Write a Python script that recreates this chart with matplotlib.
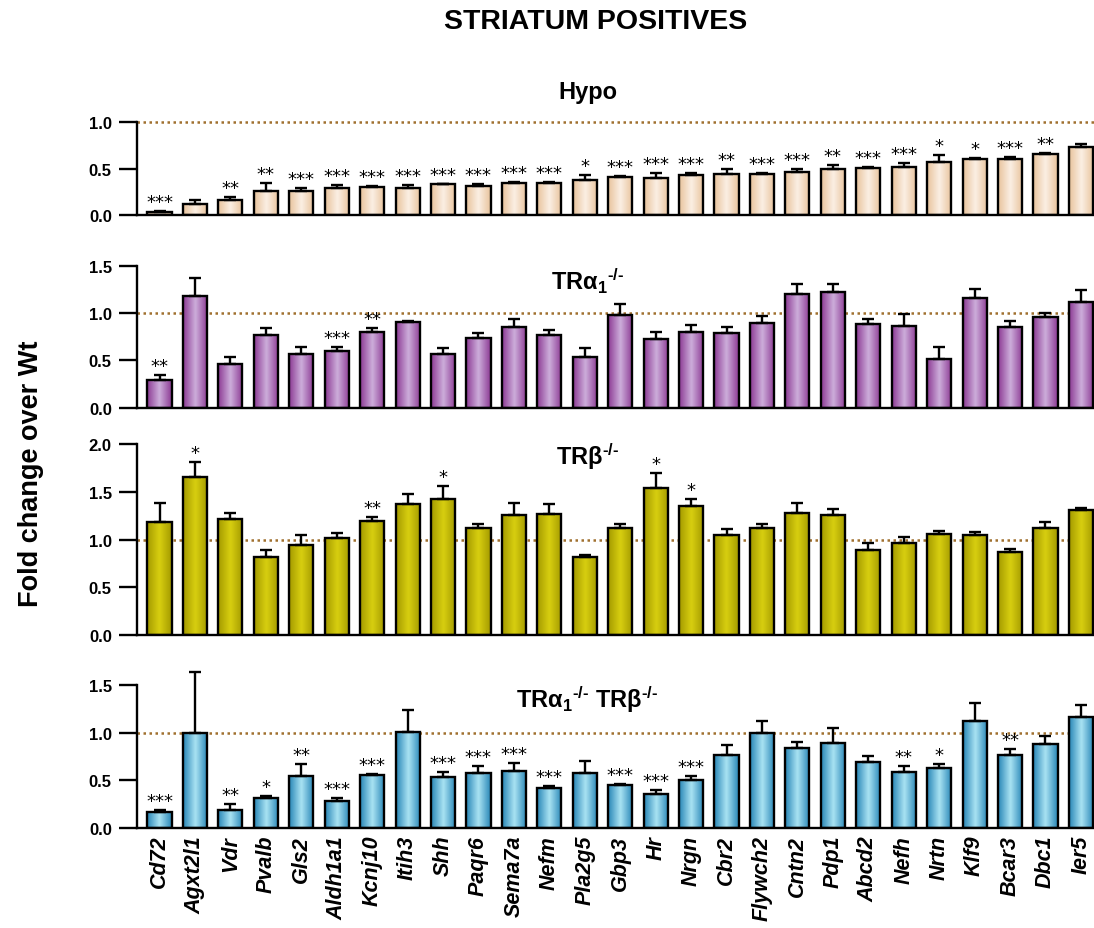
import numpy as np
import matplotlib
matplotlib.use("Agg")
import matplotlib.pyplot as plt
from matplotlib.colors import LinearSegmentedColormap

plt.rcParams['font.family'] = ['Liberation Sans', 'DejaVu Sans']
plt.rcParams['mathtext.fontset'] = 'custom'
plt.rcParams['mathtext.rm'] = 'Liberation Sans:bold'
plt.rcParams['mathtext.bf'] = 'Liberation Sans:bold'
plt.rcParams['mathtext.it'] = 'Liberation Sans:bold:italic'

genes = ["Cd72", "Agxt2l1", "Vdr", "Pvalb", "Gls2", "Aldh1a1", "Kcnj10", "Itih3",
         "Shh", "Paqr6", "Sema7a", "Nefm", "Pla2g5", "Gbp3", "Hr", "Nrgn", "Cbr2",
         "Flywch2", "Cntn2", "Pdp1", "Abcd2", "Nefh", "Nrtn", "Klf9", "Bcar3",
         "Dbc1", "Ier5"]

# --- Hypo ---
hypo_mean = [0.04, 0.12, 0.17, 0.26, 0.26, 0.29, 0.30, 0.29, 0.33, 0.31, 0.345,
             0.35, 0.38, 0.41, 0.40, 0.43, 0.44, 0.44, 0.46, 0.49, 0.51, 0.52,
             0.57, 0.60, 0.60, 0.66, 0.73]
hypo_sem = [0.01, 0.04, 0.025, 0.09, 0.03, 0.03, 0.01, 0.03, 0.01, 0.03, 0.015,
            0.01, 0.05, 0.01, 0.05, 0.02, 0.05, 0.01, 0.04, 0.05, 0.005, 0.04,
            0.07, 0.01, 0.02, 0.01, 0.03]
hypo_sig = ["***", "", "**", "**", "***", "***", "***", "***", "***", "***", "***",
            "***", "*", "***", "***", "***", "**", "***", "***", "**", "***", "***",
            "*", "*", "***", "**", ""]

# --- TRa1 -/- ---
tra_mean = [0.29, 1.18, 0.46, 0.77, 0.57, 0.60, 0.80, 0.90, 0.57, 0.74, 0.85,
            0.765, 0.54, 0.98, 0.73, 0.80, 0.785, 0.89, 1.205, 1.22, 0.88, 0.86,
            0.51, 1.155, 0.855, 0.96, 1.12]
tra_sem = [0.055, 0.19, 0.075, 0.07, 0.07, 0.04, 0.04, 0.02, 0.065, 0.05, 0.085,
           0.06, 0.09, 0.12, 0.07, 0.07, 0.07, 0.075, 0.105, 0.09, 0.055, 0.125,
           0.13, 0.095, 0.06, 0.04, 0.12]
tra_sig = ["**", "", "", "", "", "***", "**"] + [""] * 20

# --- TRb -/- ---
trb_mean = [1.185, 1.66, 1.215, 0.82, 0.945, 1.02, 1.20, 1.375, 1.425, 1.12,
            1.255, 1.27, 0.82, 1.12, 1.54, 1.35, 1.045, 1.12, 1.275, 1.26, 0.89,
            0.965, 1.055, 1.05, 0.87, 1.125, 1.31]
trb_sem = [0.205, 0.16, 0.065, 0.07, 0.105, 0.055, 0.035, 0.10, 0.14, 0.04, 0.135,
           0.105, 0.02, 0.04, 0.16, 0.08, 0.07, 0.04, 0.11, 0.06, 0.07, 0.06,
           0.04, 0.03, 0.035, 0.065, 0.02]
trb_sig = ["", "*", "", "", "", "", "**", "", "*", "", "", "", "", "", "*", "*",
           "", "", "", "", "", "", "", "", "", "", ""]

# --- TRa1 -/- TRb -/- ---
trab_mean = [0.17, 1.0, 0.19, 0.315, 0.545, 0.285, 0.555, 1.005, 0.535, 0.58,
             0.595, 0.42, 0.575, 0.445, 0.355, 0.50, 0.77, 0.995, 0.84, 0.89,
             0.695, 0.59, 0.625, 1.125, 0.77, 0.88, 1.165]
trab_sem = [0.015, 0.64, 0.065, 0.02, 0.13, 0.025, 0.015, 0.235, 0.05, 0.07, 0.085,
            0.02, 0.13, 0.02, 0.045, 0.04, 0.095, 0.125, 0.06, 0.16, 0.06, 0.06,
            0.05, 0.185, 0.055, 0.085, 0.125]
trab_sig = ["***", "", "**", "*", "**", "***", "***", "", "***", "***", "***",
            "***", "", "***", "***", "***", "", "", "", "", "", "**", "*", "",
            "**", "", ""]


def shade(edge, center):
    """Cylinder-like horizontal gradient for the bar fill."""
    return LinearSegmentedColormap.from_list("cyl", [edge, center, edge])


KO_A = r"TRα$_{1}$$^{\text{-/-}}$"
KO_B = r"TRβ$^{\text{-/-}}$"

panels = [
    # (mean, sem, sig, ymax, cmap, axes rect, title, title y)
    (hypo_mean, hypo_sem, hypo_sig, 1.0, shade("#E8C39C", "#FBEFE4"),
     [0.125, 0.767, 0.875, 0.101], "Hypo", 0.900),
    (tra_mean, tra_sem, tra_sig, 1.5, shade("#8C3A94", "#CDAEDB"),
     [0.125, 0.560, 0.875, 0.153], KO_A, 0.697),
    (trb_mean, trb_sem, trb_sig, 2.0, shade("#A49A00", "#D8CF10"),
     [0.125, 0.3155, 0.875, 0.205], KO_B, 0.508),
    (trab_mean, trab_sem, trab_sig, 1.5, shade("#2886B6", "#AAE3F3"),
     [0.125, 0.1078, 0.875, 0.1538], KO_A + " " + KO_B, 0.247),
]

fig = plt.figure(figsize=(10.94, 9.29), dpi=100)
x = np.arange(len(genes))
width = 0.68
grad = np.linspace(0, 1, 64).reshape(1, -1)

for k, (mean, sem, sig, ymax, cmap, rect, title, ty) in enumerate(panels):
    ax = fig.add_axes(rect)
    mean = np.array(mean)
    sem = np.array(sem)

    for xi, m in zip(x, mean):
        ax.imshow(grad, extent=(xi - width / 2, xi + width / 2, 0, m),
                  aspect='auto', cmap=cmap, interpolation='bicubic', zorder=2)
    ax.bar(x, mean, width, facecolor='none', edgecolor='black',
           linewidth=1.7, zorder=3)
    ax.errorbar(x, mean, yerr=[np.zeros_like(sem), sem], fmt='none',
                ecolor='black', elinewidth=1.7, capsize=4.5, capthick=1.7,
                zorder=2.5, clip_on=False)

    for xi, m, s, lab in zip(x, mean, sem, sig):
        if lab:
            ax.annotate(lab, (xi, m + s), xytext=(0, 0),
                        textcoords='offset points', ha='center', va='bottom',
                        fontsize=13, family='DejaVu Sans',
                        annotation_clip=False)

    ax.axhline(1.0, color='#A0702F', linestyle=(0, (1, 1.4)), linewidth=1.8,
               zorder=1, clip_on=False)

    ax.set_xlim(-0.643, 26.37)
    ax.set_ylim(0, ymax)
    ticks = np.arange(0, ymax + 0.01, 0.5)
    ax.set_yticks(ticks)
    ax.set_yticklabels([f"{v:.1f}" for v in ticks], fontsize=12,
                       fontweight='bold')
    ax.tick_params(axis='y', length=13, width=1.7, pad=5)
    for side in ('top', 'right'):
        ax.spines[side].set_visible(False)
    for side in ('left', 'bottom'):
        ax.spines[side].set_linewidth(1.7)

    if k == len(panels) - 1:
        ax.set_xticks(x)
        ax.set_xticklabels(genes, rotation=90, fontsize=15.5,
                           fontweight='bold', fontstyle='italic')
        ax.tick_params(axis='x', length=0, pad=5)
    else:
        ax.set_xticks([])

    fig.text(0.537, ty, title, ha='center', va='center', fontsize=17,
             fontweight='bold')

fig.text(0.544, 0.976, "STRIATUM POSITIVES", ha='center', va='center',
         fontsize=20.5, fontweight='bold')
fig.text(0.028, 0.49, "Fold change over Wt", ha='center', va='center',
         rotation=90, fontsize=19.5, fontweight='bold')

fig.savefig("out.png", dpi=100)
